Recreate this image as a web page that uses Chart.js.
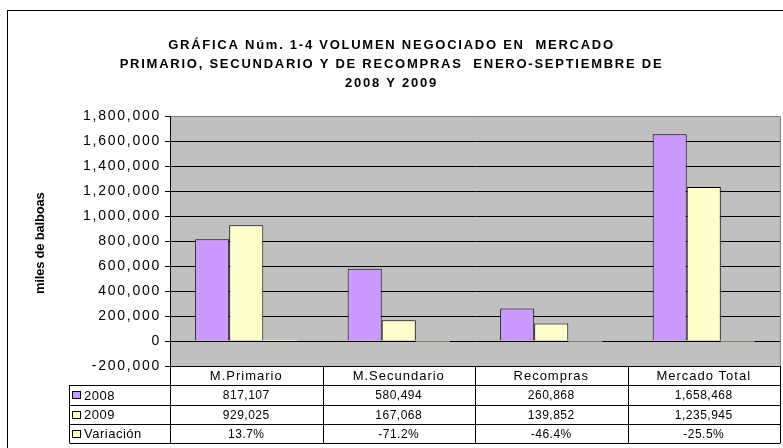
<!DOCTYPE html>
<html>
<head>
<meta charset="utf-8">
<script src="https://cdn.jsdelivr.net/npm/chart.js@4.4.1/dist/chart.umd.min.js"></script>
<style>
  html, body { margin: 0; padding: 0; background: #fff; }
  #wrap { position: relative; width: 783px; height: 448px; }
</style>
</head>
<body>
<div id="wrap"><canvas id="chartVolumen"></canvas></div>
<script>
const categories = ["M.Primario", "M.Secundario", "Recompras", "Mercado Total"];
const seriesNames = ["2008", "2009", "Variación"];
const values2008 = [817107, 580494, 260868, 1658468];
const values2009 = [929025, 167068, 139852, 1235945];
const variacion = [13.7, -71.2, -46.4, -25.5];
const titleLines = [
  "GRÁFICA Núm. 1-4 VOLUMEN NEGOCIADO EN  MERCADO",
  "PRIMARIO, SECUNDARIO Y DE RECOMPRAS  ENERO-SEPTIEMBRE DE",
  "2008 Y 2009"
];
const yTitle = "miles de balboas";
const yMin = -200000;
const yMax = 1800000;
const yStep = 200000;

const COLORS = {
  purple: "#CC99FF",
  yellow: "#FFFFCC",
  plot: "#C0C0C0",
  ink: "#000000",
  frame: "#808080",
};
const FONT = "'Liberation Sans', Arial, sans-serif";
const SPACING = "1.75px";

const fmt = v => v.toLocaleString("en-US");

// draws the plot background, outer frame, y title and the data table under the plot
const tablePlugin = {
  id: "tablePlugin",
  beforeUpdate(chart) {
    chart.ctx.letterSpacing = SPACING;
  },
  beforeDraw(chart) {
    const { ctx, chartArea: a } = chart;
    ctx.save();
    ctx.fillStyle = COLORS.plot;
    ctx.fillRect(a.left, a.top, a.right - a.left, a.bottom - a.top);
    ctx.strokeStyle = COLORS.ink;
    ctx.lineWidth = 1;
    ctx.strokeRect(7.5, 10.5, 900, 600);
    ctx.restore();
    ctx.letterSpacing = SPACING;
  },
  afterDraw(chart) {
    const { ctx, chartArea: a } = chart;
    ctx.save();
    ctx.letterSpacing = "0px";

    // right edge of the plot
    ctx.strokeStyle = COLORS.frame;
    ctx.beginPath();
    ctx.moveTo(Math.round(a.right) + 0.5, a.top);
    ctx.lineTo(Math.round(a.right) + 0.5, a.bottom);
    ctx.stroke();

    // y axis title
    ctx.save();
    ctx.translate(40, (a.top + a.bottom) / 2 + 2);
    ctx.rotate(-Math.PI / 2);
    ctx.font = "bold 13px " + FONT;
    ctx.letterSpacing = "-0.2px";
    ctx.fillStyle = COLORS.ink;
    ctx.textAlign = "center";
    ctx.textBaseline = "middle";
    ctx.fillText(yTitle, 0, 0);
    ctx.restore();

    // data table
    const colW = (a.right - a.left) / categories.length;
    const legendLeft = 69.5;
    const b = Math.round(a.bottom);
    const rows = [b, b + 19, b + 39, b + 58, b + 77];
    ctx.strokeStyle = COLORS.ink;
    ctx.lineWidth = 1;
    ctx.beginPath();
    for (let i = 0; i <= categories.length; i++) {
      const x = Math.round(a.left + i * colW) + 0.5;
      ctx.moveTo(x, rows[0]);
      ctx.lineTo(x, rows[4]);
    }
    ctx.moveTo(legendLeft, rows[1]);
    ctx.lineTo(legendLeft, rows[4]);
    for (let r = 1; r < rows.length; r++) {
      ctx.moveTo(legendLeft, rows[r] + 0.5);
      ctx.lineTo(Math.round(a.right) + 0.5, rows[r] + 0.5);
    }
    ctx.stroke();

    ctx.fillStyle = COLORS.ink;
    ctx.textBaseline = "middle";
    ctx.textAlign = "center";
    ctx.font = "13px " + FONT;
    ctx.letterSpacing = "1px";
    categories.forEach((c, i) => {
      ctx.fillText(c, a.left + (i + 0.5) * colW, (rows[0] + rows[1]) / 2 + 1);
    });

    const rowData = [
      values2008.map(fmt),
      values2009.map(fmt),
      variacion.map(v => v.toFixed(1) + "%")
    ];
    const swatches = [COLORS.purple, COLORS.yellow, COLORS.yellow];
    ctx.font = "12px " + FONT;
    ctx.letterSpacing = "0.5px";
    rowData.forEach((vals, r) => {
      const cy = (rows[r + 1] + rows[r + 2]) / 2 + 1;
      vals.forEach((t, i) => {
        ctx.textAlign = "center";
        ctx.fillText(t, a.left + (i + 0.5) * colW, cy);
      });
      ctx.fillStyle = swatches[r];
      ctx.fillRect(72.5, Math.round(cy) - 4.5, 8, 7);
      ctx.strokeRect(72.5, Math.round(cy) - 4.5, 8, 7);
      ctx.fillStyle = COLORS.ink;
      ctx.textAlign = "left";
      ctx.font = "13px " + FONT;
      ctx.fillText(seriesNames[r], 84, cy);
      ctx.font = "12px " + FONT;
    });
    ctx.restore();
    ctx.letterSpacing = SPACING;
  }
};

const barStyle = { categoryPercentage: 0.67, barPercentage: 1 };

const ctx = document.getElementById("chartVolumen").getContext("2d");
new Chart(ctx, {
  type: "bar",
  data: {
    labels: categories,
    datasets: [
      {
        label: seriesNames[0],
        data: values2008,
        backgroundColor: COLORS.purple,
        borderColor: COLORS.ink,
        borderWidth: 1,
        ...barStyle,
      },
      {
        label: seriesNames[1],
        data: values2009,
        backgroundColor: COLORS.yellow,
        borderColor: COLORS.ink,
        borderWidth: 1,
        ...barStyle,
      },
      {
        // percentages on the same axis: too small to show, but they keep their slot
        label: seriesNames[2],
        data: variacion,
        backgroundColor: COLORS.yellow,
        borderWidth: 0,
        ...barStyle,
      }
    ]
  },
  options: {
    responsive: true,
    maintainAspectRatio: false,
    animation: false,
    devicePixelRatio: 1,
    layout: { padding: { top: 0, left: 3, right: 3, bottom: 82 } },
    plugins: {
      legend: { display: false },
      tooltip: { enabled: false },
      title: {
        display: true,
        text: titleLines,
        color: COLORS.ink,
        font: { family: FONT, size: 13, weight: "bold", lineHeight: 1.45 },
        padding: { top: 36, bottom: 24 },
      }
    },
    scales: {
      x: { display: false },
      y: {
        min: yMin,
        max: yMax,
        afterFit: scale => { scale.width = 167; },
        ticks: {
          stepSize: yStep,
          color: COLORS.ink,
          padding: 4,
          font: { family: FONT, size: 14 },
          callback: value => fmt(value),
        },
        grid: {
          color: c => (c.tick && c.tick.value === yMax ? COLORS.frame : COLORS.ink),
          tickColor: COLORS.ink,
          tickLength: 5,
        },
        border: { color: COLORS.ink, width: 1 },
      }
    }
  },
  plugins: [tablePlugin]
});
</script>
</body>
</html>
